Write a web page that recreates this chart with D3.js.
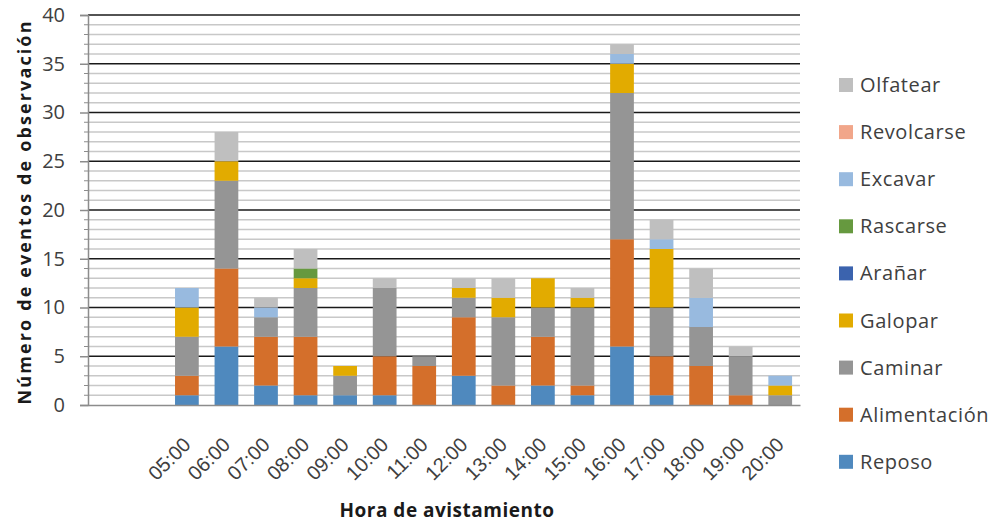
<!DOCTYPE html>
<html>
<head>
<meta charset="utf-8">
<script src="https://cdn.jsdelivr.net/npm/d3@7/dist/d3.min.js"></script>
<style>
  html, body { margin: 0; padding: 0; background: #fff; }
  svg { display: block; font-family: "Open Sans", "Noto Sans", sans-serif; }
</style>
</head>
<body>
<svg id="chart" width="996" height="522"></svg>
<script>
// Hour slots (two leading empty slots before 05:00)
const hours = ["", "", "05:00", "06:00", "07:00", "08:00", "09:00", "10:00", "11:00",
  "12:00", "13:00", "14:00", "15:00", "16:00", "17:00", "18:00", "19:00", "20:00"];

// Stack order, bottom to top
const behaviours = ["Reposo", "Alimentación", "Caminar", "Galopar", "Arañar",
  "Rascarse", "Excavar", "Revolcarse", "Olfatear"];

const reposo       = [0, 0, 1, 6, 2, 1, 1, 1, 0, 3, 0, 2, 1, 6, 1, 0, 0, 0];
const alimentacion = [0, 0, 2, 8, 5, 6, 0, 4, 4, 6, 2, 5, 1, 11, 4, 4, 1, 0];
const caminar      = [0, 0, 4, 9, 2, 5, 2, 7, 1, 2, 7, 3, 8, 15, 5, 4, 4, 1];
const galopar      = [0, 0, 3, 2, 0, 1, 1, 0, 0, 1, 2, 3, 1, 3, 6, 0, 0, 1];
const aranar       = [0, 0, 0, 0, 0, 0, 0, 0, 0, 0, 0, 0, 0, 0, 0, 0, 0, 0];
const rascarse     = [0, 0, 0, 0, 0, 1, 0, 0, 0, 0, 0, 0, 0, 0, 0, 0, 0, 0];
const excavar      = [0, 0, 2, 0, 1, 0, 0, 0, 0, 0, 0, 0, 0, 1, 1, 3, 0, 1];
const revolcarse   = [0, 0, 0, 0, 0, 0, 0, 0, 0, 0, 0, 0, 0, 0, 0, 0, 0, 0];
const olfatear     = [0, 0, 0, 3, 1, 2, 0, 1, 0, 1, 2, 0, 1, 1, 2, 3, 1, 0];

const yTicks = [0, 5, 10, 15, 20, 25, 30, 35, 40];

const seriesValues = [reposo, alimentacion, caminar, galopar, aranar,
  rascarse, excavar, revolcarse, olfatear];
const colors = ["#4f89be", "#d46f2b", "#959595", "#e2ab00", "#3b63ae",
  "#66993f", "#98badf", "#f1a68a", "#bfbfbf"];

// Build one row per hour slot for d3.stack
const rows = hours.map((h, i) => {
  const r = { idx: i };
  behaviours.forEach((b, k) => { r[b] = seriesValues[k][i]; });
  return r;
});

const svg = d3.select("#chart");
const plotLeft = 88, plotRight = 800, plotTop = 15, plotBottom = 405;

const x = d3.scaleBand().domain(hours.map((_, i) => i)).range([plotLeft, plotRight])
  .paddingInner(0.4).paddingOuter(0.2);
const y = d3.scaleLinear().domain([0, 40]).range([plotBottom, plotTop]);

// Minor gridlines every unit
svg.append("g").selectAll("line")
  .data(d3.range(1, 40).filter(v => v % 5 !== 0))
  .join("line")
  .attr("x1", plotLeft).attr("x2", plotRight)
  .attr("y1", d => y(d)).attr("y2", d => y(d))
  .attr("stroke", "#c8c8c8").attr("stroke-width", 1.6);

// Major gridlines
svg.append("g").selectAll("line")
  .data(yTicks.filter(v => v > 0))
  .join("line")
  .attr("x1", plotLeft).attr("x2", plotRight)
  .attr("y1", d => y(d)).attr("y2", d => y(d))
  .attr("stroke", "#1a1a1a").attr("stroke-width", 1.6);

// Stacked bars
const stacked = d3.stack().keys(behaviours)(rows);
svg.append("g").selectAll("g")
  .data(stacked)
  .join("g")
  .attr("fill", (d, k) => colors[k])
  .selectAll("rect")
  .data(d => d.filter(s => s[1] - s[0] > 0))
  .join("rect")
  .attr("x", d => x(d.data.idx))
  .attr("width", x.bandwidth())
  .attr("y", d => y(d[1]))
  .attr("height", d => y(d[0]) - y(d[1]));

// Y axis with major and minor ticks
const yAxis = svg.append("g").attr("transform", `translate(${plotLeft},0)`);
yAxis.call(d3.axisLeft(y).tickValues(yTicks).tickSize(8).tickPadding(15))
  .call(g => g.select(".domain").attr("stroke", "#8c8c8c").attr("stroke-width", 1.5))
  .call(g => g.selectAll(".tick line").attr("stroke", "#8c8c8c").attr("stroke-width", 1.5))
  .call(g => g.selectAll("text").attr("fill", "#404040")
    .style("font-size", "20px").style("font-family", "'Open Sans', sans-serif"));
yAxis.append("g").selectAll("line")
  .data(d3.range(1, 40).filter(v => v % 5 !== 0))
  .join("line")
  .attr("x1", -4).attr("x2", 0)
  .attr("y1", d => y(d)).attr("y2", d => y(d))
  .attr("stroke", "#8c8c8c").attr("stroke-width", 1);

// X axis with rotated hour labels
const xAxis = svg.append("g").attr("transform", `translate(0,${plotBottom})`);
xAxis.call(d3.axisBottom(x).tickFormat(i => hours[i]).tickSize(0).tickPadding(0))
  .call(g => g.select(".domain").attr("stroke", "#8c8c8c").attr("stroke-width", 1.5))
  .call(g => g.selectAll("text")
    .attr("fill", "#404040")
    .style("font-size", "20px")
    .attr("text-anchor", "end")
    .attr("y", 0).attr("dy", 0)
    .attr("transform", "translate(5,41) rotate(-45)"));

// Axis titles
svg.append("text")
  .attr("x", 447).attr("y", 517)
  .attr("text-anchor", "middle")
  .attr("fill", "#1a1a1a")
  .style("font-size", "19px").style("font-weight", "bold")
  .style("letter-spacing", "0.5px")
  .text("Hora de avistamiento");

svg.append("text")
  .attr("transform", "translate(31,213) rotate(-90)")
  .attr("text-anchor", "middle")
  .attr("fill", "#1a1a1a")
  .attr("textLength", 383)
  .attr("lengthAdjust", "spacing")
  .style("font-size", "18px").style("font-weight", "bold")
  .text("Número de eventos de observación");

// Legend, listed top to bottom in reverse stack order
const legendItems = behaviours.map((b, k) => ({ name: b, color: colors[k] })).reverse();
const legend = svg.append("g").selectAll("g")
  .data(legendItems)
  .join("g")
  .attr("transform", (d, i) => `translate(839,${85 + i * 47.1})`);
legend.append("rect")
  .attr("x", 0).attr("y", -7).attr("width", 14).attr("height", 14)
  .attr("fill", d => d.color);
legend.append("text")
  .attr("x", 21).attr("y", 0).attr("dy", "0.35em")
  .attr("fill", "#404040")
  .style("font-size", "20px").style("letter-spacing", "0.6px")
  .text(d => d.name);
</script>
</body>
</html>
